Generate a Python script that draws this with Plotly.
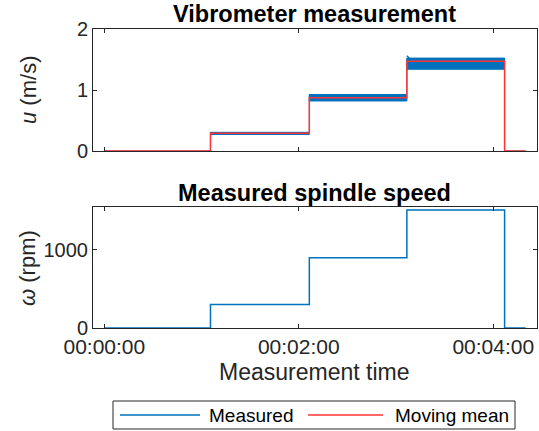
import plotly.graph_objects as go

# ---- data ----
step_times = [0, 65.5, 126.5, 186.7, 247.0, 260.0]   # s, segment boundaries
speed_rpm = [0, 300, 900, 1510, 0]                   # measured spindle speed per segment
u_mean = [0, 0.29, 0.875, 1.47, 0]                   # moving mean of vibrometer velocity
u_low = [0, 0.27, 0.82, 1.34, 0]                     # lower envelope of measured velocity
u_high = [0, 0.305, 0.925, 1.52, 0]                  # upper envelope of measured velocity
u_spike = 1.56                                        # short overshoot at start of last step
xtick_vals = [0, 120, 240]
xtick_text = ["00:00:00", "00:02:00", "00:04:00"]
legend_names = ["Measured", "Moving mean"]

BLUE = "#0072BD"
RED = "#FF3535"
AX = "#262626"
FONT = "Liberation Sans, Arial, Helvetica, sans-serif"


def step_xy(times, vals):
    xs, ys = [], []
    for i, v in enumerate(vals):
        xs += [times[i], times[i + 1]]
        ys += [v, v]
    return xs, ys


fig = go.Figure()

# top: measured band (filled envelope per segment)
for i in range(len(u_low)):
    t0, t1 = step_times[i], step_times[i + 1]
    lo, hi = u_low[i], u_high[i]
    if hi - lo <= 0:
        continue
    fig.add_trace(go.Scatter(x=[t0, t1, t1, t0, t0], y=[lo, lo, hi, hi, lo],
                             mode="lines", fill="toself", fillcolor=BLUE,
                             line=dict(color=BLUE, width=1), showlegend=False,
                             hoverinfo="skip", xaxis="x", yaxis="y"))
mx, my = step_xy(step_times, u_high)
fig.add_trace(go.Scatter(x=mx, y=my, mode="lines", line=dict(color=BLUE, width=1),
                         showlegend=False, xaxis="x", yaxis="y"))
fig.add_trace(go.Scatter(x=[step_times[3], step_times[3] + 1.5], y=[u_spike, u_high[3]],
                         mode="lines", line=dict(color=BLUE, width=1.5),
                         showlegend=False, xaxis="x", yaxis="y"))
rx, ry = step_xy(step_times, u_mean)
fig.add_trace(go.Scatter(x=rx, y=ry, mode="lines", line=dict(color=RED, width=1.5),
                         showlegend=False, xaxis="x", yaxis="y"))

# bottom: spindle speed
sx, sy = step_xy(step_times, speed_rpm)
fig.add_trace(go.Scatter(x=sx, y=sy, mode="lines", line=dict(color=BLUE, width=1.5),
                         showlegend=False, xaxis="x2", yaxis="y2"))

W, H = 539, 431
xl, xr = 93 / W, 537 / W
axis_common = dict(showline=True, linecolor=AX, linewidth=1, mirror="ticks",
                   ticks="inside", ticklen=4, tickcolor=AX, showgrid=False,
                   zeroline=False, automargin=False)

fig.update_layout(
    width=W, height=H, margin=dict(l=0, r=0, t=0, b=0),
    paper_bgcolor="white", plot_bgcolor="white",
    font=dict(family=FONT, color=AX),
    showlegend=False,
    xaxis=dict(domain=[xl, xr], range=[-7, 267], anchor="y", tickvals=xtick_vals,
               ticktext=["", "", ""], tickfont=dict(size=21, color=AX, family=FONT),
               **axis_common),
    yaxis=dict(domain=[(H - 151) / H, (H - 29) / H], range=[0, 2], anchor="x",
               tickvals=[0, 1, 2], tickfont=dict(size=20, color=AX, family=FONT),
               **axis_common),
    xaxis2=dict(domain=[xl, xr], range=[-7, 267], anchor="y2", tickvals=xtick_vals,
                ticktext=xtick_text, tickfont=dict(size=21, color=AX, family=FONT),
                **axis_common),
    yaxis2=dict(domain=[(H - 328) / H, (H - 207) / H], range=[0, 1550], anchor="x2",
                tickvals=[0, 1000], tickfont=dict(size=20, color=AX, family=FONT),
                **axis_common),
)

ann = [
    dict(text="<b>Vibrometer measurement</b>", x=314 / W, y=(H - 14) / H, size=23.5, angle=0, c="#000000"),
    dict(text="<b>Measured spindle speed</b>", x=314 / W, y=(H - 193) / H, size=23.5, angle=0, c="#000000"),
    dict(text="Measurement time", x=314 / W, y=(H - 372) / H, size=23, angle=0, c=AX),
    dict(text="<i>u</i> (m/s)", x=28 / W, y=(H - 90) / H, size=22, angle=-90, c=AX),
    dict(text="<i>ω</i> (rpm)", x=28 / W, y=(H - 268) / H, size=22, angle=-90, c=AX),
]
for a in ann:
    fig.add_annotation(text=a["text"], x=a["x"], y=a["y"], xref="paper", yref="paper",
                       showarrow=False, xanchor="center", yanchor="middle",
                       textangle=a["angle"], font=dict(size=a["size"], color=a["c"], family=FONT))

# manual legend (MATLAB style with long line samples)
ly = (H - 415) / H
fig.add_shape(type="rect", xref="paper", yref="paper", x0=113 / W, x1=515 / W,
              y0=(H - 429) / H, y1=(H - 401) / H, line=dict(color=AX, width=1),
              fillcolor="white")
for (x0, x1, tx, col, name) in [(120, 200, 207, BLUE, legend_names[0]),
                                (308, 383, 393, RED, legend_names[1])]:
    fig.add_shape(type="line", xref="paper", yref="paper", x0=x0 / W, x1=x1 / W,
                  y0=ly, y1=ly, line=dict(color=col, width=1.5))
    fig.add_annotation(text=name, x=tx / W, y=ly, xref="paper", yref="paper",
                       showarrow=False, xanchor="left", yanchor="middle",
                       font=dict(size=19, color="#000000", family=FONT))

fig.write_html("out.html")
